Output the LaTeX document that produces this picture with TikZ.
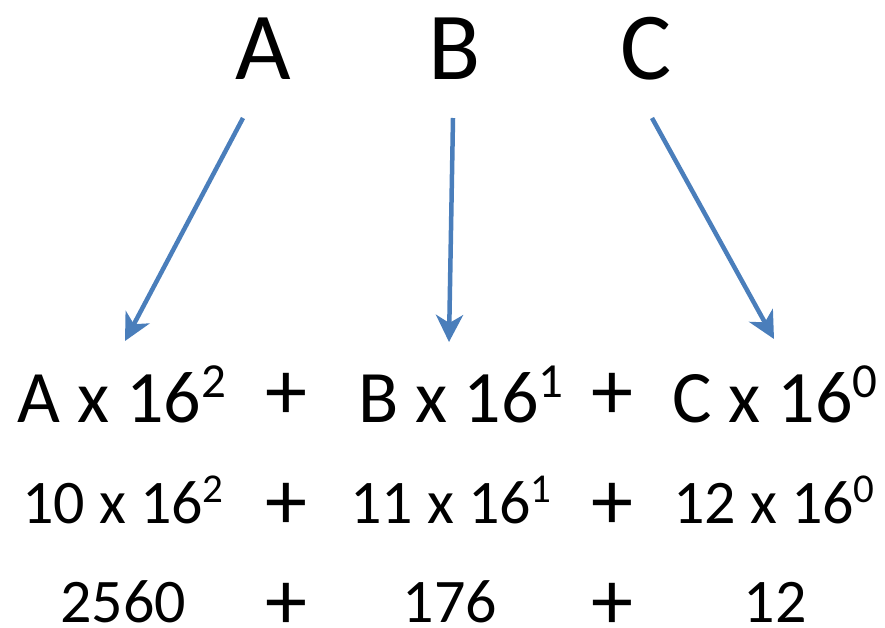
\documentclass[tikz,border=0pt]{standalone}
\usepackage{fontspec}
\setmainfont{Carlito}
\usetikzlibrary{arrows.meta}
\definecolor{HexBlue}{HTML}{4A7EBB}
\newcommand{\supA}[1]{\raisebox{25pt}{\fontsize{49}{49}\selectfont #1}}
\newcommand{\supB}[1]{\raisebox{21pt}{\fontsize{41}{41}\selectfont #1}}

\begin{document}
\begin{tikzpicture}[x=1pt,y=-1pt,>={Stealth[length=27pt,width=27pt,inset=8pt]}]
  \tikzset{
    digit/.style={font=\fontsize{96}{96}\selectfont,anchor=base,inner sep=0pt},
    termA/.style={font=\fontsize{74}{74}\selectfont,anchor=base,inner sep=0pt,text depth=0pt},
    termB/.style={font=\fontsize{62}{62}\selectfont,anchor=base,inner sep=0pt,text depth=0pt},
    plus/.style={font=\fontsize{84}{84}\selectfont,anchor=center,inner sep=0pt},
    hexarrow/.style={->,HexBlue,line width=4.5pt}
  }
  \useasboundingbox (0,0) rectangle (885,627);
  % hex digits
  \node[digit] (hA) at (263,79) {A};
  \node[digit] (hB) at (455,79) {B};
  \node[digit] (hC) at (646,79) {C};
  % first row
  \node[termA] (rA) at (122,422) {A x 16\supA{2}};
  \node[plus] (p1) at (286,396) {+};
  \node[termA] (rB) at (461,422) {B x 16\supA{1}};
  \node[plus] (p2) at (612,396) {+};
  \node[termA] (rC) at (775,422) {C x 16\supA{0}};
  % second row
  \node[termB] (sA) at (123,523) {10 x 16\supB{2}};
  \node[plus] (q1) at (286,506) {+};
  \node[termB] (sB) at (451,523) {11 x 16\supB{1}};
  \node[plus] (q2) at (612,506) {+};
  \node[termB] (sC) at (774,523) {12 x 16\supB{0}};
  % third row
  \node[termB] (tA) at (123,622) {2560};
  \node[plus] (u1) at (286,606) {+};
  \node[termB] (tB) at (450,622) {176};
  \node[plus] (u2) at (612,606) {+};
  \node[termB] (tC) at (775,622) {12};
  % arrows
  \coordinate (aA) at (243,118);
  \coordinate (bA) at (125,341);
  \coordinate (aB) at (453,118);
  \coordinate (bB) at (449,342);
  \coordinate (aC) at (652,118);
  \coordinate (bC) at (774,339);
  \draw[hexarrow] (aA) -- (bA);
  \draw[hexarrow] (aB) -- (bB);
  \draw[hexarrow] (aC) -- (bC);
\end{tikzpicture}
\end{document}
